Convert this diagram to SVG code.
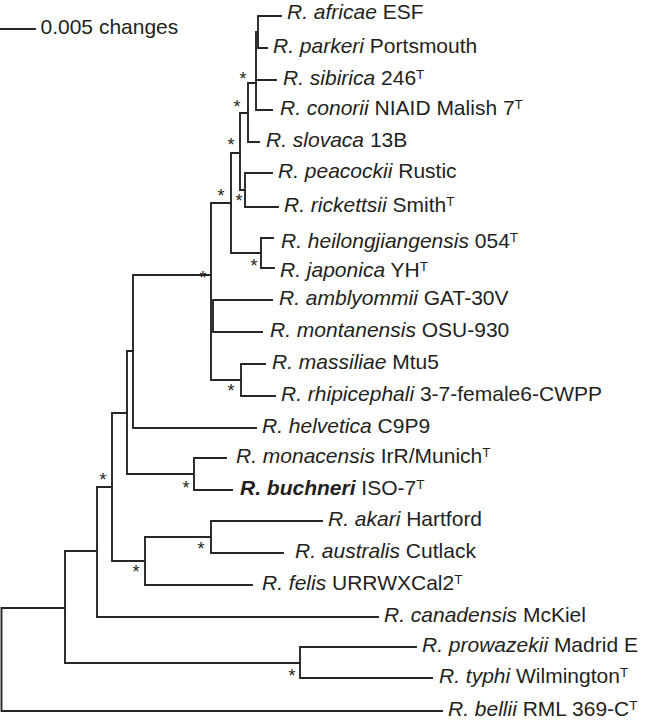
<svg xmlns="http://www.w3.org/2000/svg" width="645" height="722" viewBox="0 0 645 722">
<style>
  .br { fill: none; stroke: #262626; stroke-width: 1.9; stroke-linecap: square; }
  .lab { font-family: "Liberation Sans", Arial, sans-serif; font-size: 21px; fill: #231f20; }
  .i { font-style: italic; }
  .b { font-weight: bold; }
  .sup { font-size: 13.5px; }
  .star { font-family: "Liberation Sans", Arial, sans-serif; font-size: 18px; fill: #231f20; text-anchor: middle; }
</style>
<rect width="645" height="722" fill="#ffffff"/>
<g id="scale">
  <path class="br" d="M0 29H35"/>
  <text class="lab" x="40.5" y="34">0.005 changes</text>
</g>
<g id="connectors">
  <path class="br" d="M1.5 608V711M1.5 608H65M1.5 711H442"/>
  <path class="br" d="M65 551V663M65 551H97M65 663H300"/>
  <path class="br" d="M300 647V678M300 647H416M300 678H432"/>
  <path class="br" d="M97 487V617M97 487H112M97 617H378"/>
  <path class="br" d="M112 413V561M112 413H127M112 561H145"/>
  <path class="br" d="M145 537V585M145 537H211M145 585H252"/>
  <path class="br" d="M211 521V553M211 521H322M211 553H283"/>
  <path class="br" d="M127 351V474M127 351H133M127 474H194"/>
  <path class="br" d="M194 458V490M194 458H226M194 490H232"/>
  <path class="br" d="M133 275V428M133 275H211M133 428H256"/>
  <path class="br" d="M211 203V380M211 203H231M211 380H241M213 300V332M213 300H272M213 332H262"/>
  <path class="br" d="M241 364V396M241 364H265M241 396H275"/>
  <path class="br" d="M231 153V253M231 153H240M231 253H261"/>
  <path class="br" d="M261 238V268M261 238H273M261 268H274"/>
  <path class="br" d="M240 113V190M240 113H248M240 190H245"/>
  <path class="br" d="M245 173V207M245 173H272M245 207H278"/>
  <path class="br" d="M248 83V142M248 83H256M248 142H259"/>
  <path class="br" d="M256 32V110M256 32H258M256 80H276M256 110H272"/>
  <path class="br" d="M258 16V48M258 16H281M258 48H267"/>
</g>
<g id="supports">
  <text class="star" x="243" y="85">*</text>
  <text class="star" x="237" y="113">*</text>
  <text class="star" x="231" y="151">*</text>
  <text class="star" x="239" y="207">*</text>
  <text class="star" x="221" y="202">*</text>
  <text class="star" x="203" y="284">*</text>
  <text class="star" x="254" y="272">*</text>
  <text class="star" x="231" y="397">*</text>
  <text class="star" x="186" y="494">*</text>
  <text class="star" x="103" y="486">*</text>
  <text class="star" x="136" y="578">*</text>
  <text class="star" x="201" y="555">*</text>
  <text class="star" x="292" y="682">*</text>
</g>
<g id="leaf-africae"><text class="lab" x="287" y="19"><tspan class="i">R. africae</tspan> ESF</text></g>
<g id="leaf-parkeri"><text class="lab" x="273" y="53"><tspan class="i">R. parkeri</tspan> Portsmouth</text></g>
<g id="leaf-sibirica"><text class="lab" x="283" y="85"><tspan class="i">R. sibirica</tspan> 246<tspan class="sup" dy="-6">T</tspan></text></g>
<g id="leaf-conorii"><text class="lab" x="280" y="115"><tspan class="i">R. conorii</tspan> NIAID Malish 7<tspan class="sup" dy="-6">T</tspan></text></g>
<g id="leaf-slovaca"><text class="lab" x="266" y="147"><tspan class="i">R. slovaca</tspan> 13B</text></g>
<g id="leaf-peacockii"><text class="lab" x="278" y="178"><tspan class="i">R. peacockii</tspan> Rustic</text></g>
<g id="leaf-rickettsii"><text class="lab" x="284" y="212"><tspan class="i">R. rickettsii</tspan> Smith<tspan class="sup" dy="-6">T</tspan></text></g>
<g id="leaf-heilongjiangensis"><text class="lab" x="281" y="248"><tspan class="i">R. heilongjiangensis</tspan> 054<tspan class="sup" dy="-6">T</tspan></text></g>
<g id="leaf-japonica"><text class="lab" x="280" y="277"><tspan class="i">R. japonica</tspan> YH<tspan class="sup" dy="-6">T</tspan></text></g>
<g id="leaf-amblyommii"><text class="lab" x="279" y="305"><tspan class="i">R. amblyommii</tspan> GAT-30V</text></g>
<g id="leaf-montanensis"><text class="lab" x="270" y="337"><tspan class="i">R. montanensis</tspan> OSU-930</text></g>
<g id="leaf-massiliae"><text class="lab" x="272" y="369"><tspan class="i">R. massiliae</tspan> Mtu5</text></g>
<g id="leaf-rhipicephali"><text class="lab" x="281" y="401"><tspan class="i">R. rhipicephali</tspan> 3-7-female6-CWPP</text></g>
<g id="leaf-helvetica"><text class="lab" x="262" y="433"><tspan class="i">R. helvetica</tspan> C9P9</text></g>
<g id="leaf-monacensis"><text class="lab" x="236" y="463"><tspan class="i">R. monacensis</tspan> IrR/Munich<tspan class="sup" dy="-6">T</tspan></text></g>
<g id="leaf-buchneri"><text class="lab" x="240" y="495"><tspan class="i b">R. buchneri</tspan> ISO-7<tspan class="sup" dy="-6">T</tspan></text></g>
<g id="leaf-akari"><text class="lab" x="328" y="526"><tspan class="i">R. akari</tspan> Hartford</text></g>
<g id="leaf-australis"><text class="lab" x="295" y="558"><tspan class="i">R. australis</tspan> Cutlack</text></g>
<g id="leaf-felis"><text class="lab" x="262" y="590"><tspan class="i">R. felis</tspan> URRWXCal2<tspan class="sup" dy="-6">T</tspan></text></g>
<g id="leaf-canadensis"><text class="lab" x="384" y="622"><tspan class="i">R. canadensis</tspan> McKiel</text></g>
<g id="leaf-prowazekii"><text class="lab" x="422" y="652"><tspan class="i">R. prowazekii</tspan> Madrid E</text></g>
<g id="leaf-typhi"><text class="lab" x="439" y="683"><tspan class="i">R. typhi</tspan> Wilmington<tspan class="sup" dy="-6">T</tspan></text></g>
<g id="leaf-bellii"><text class="lab" x="448" y="716"><tspan class="i">R. bellii</tspan> RML 369-C<tspan class="sup" dy="-6">T</tspan></text></g>
</svg>
